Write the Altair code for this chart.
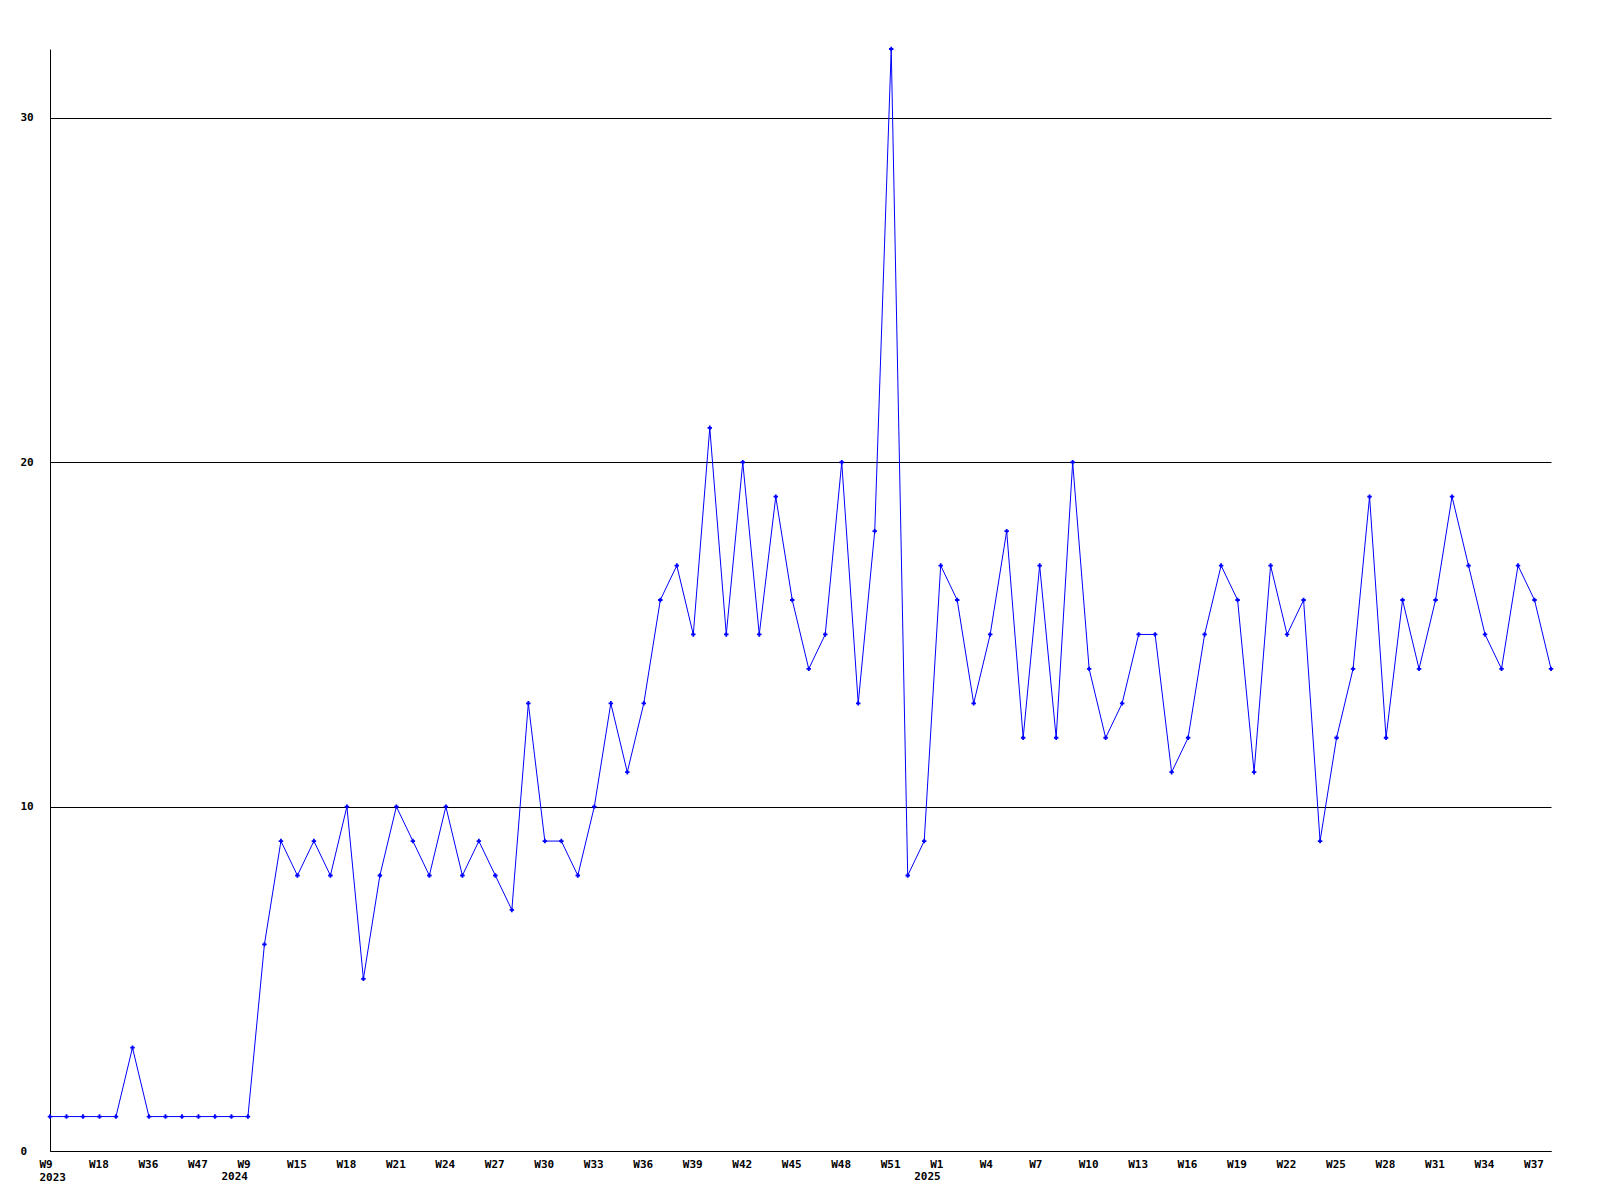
import altair as alt
import pandas as pd

# Weekly counts, one per plotted week (left to right)
values = [1, 1, 1, 1, 1, 3, 1, 1, 1, 1, 1, 1,
          1, 6, 9, 8, 9, 8, 10, 5, 8, 10, 9, 8, 10, 8, 9, 8, 7, 13,
          9, 9, 8, 10, 13, 11, 13, 16, 17, 15, 21, 15, 20, 15, 19, 16,
          14, 15, 20, 13, 18, 32, 8, 9, 17, 16, 13, 15, 18, 12, 17, 12,
          20, 14, 12, 13, 15, 15, 11, 12, 15, 17, 16, 11, 17, 15, 16, 9,
          12, 14, 19, 12, 16, 14, 16, 19, 17, 15, 14, 17, 16, 14]

# Visible tick labels (every third week); "|" separates the year line
tick_labels = ["W9|2023", "W18", "W36", "W47", "W9", "W15", "W18", "W21",
               "W24", "W27", "W30", "W33", "W36", "W39", "W42", "W45", "W48",
               "W51", "W1", "W4", "W7", "W10", "W13", "W16", "W19", "W22",
               "W25", "W28", "W31", "W34", "W37"]
tick_step = 3
# Year markers under the first week of each new year
year_labels = ["2024", "2025"]
year_index = [12, 54]
y_ticks = [0, 10, 20, 30]
y_max = 32

W, H = 1501, 1102
FONT = "DejaVu Sans Mono"
FS = 11

df = pd.DataFrame({"i": list(range(len(values))), "count": values})
years_df = pd.DataFrame({"i": year_index, "year": year_labels})

label_array = "[" + ",".join("'" + t + "'" for t in tick_labels) + "]"
label_expr = "split(" + label_array + "[round(datum.value / " + str(tick_step) + ")], '|')"

x_scale = alt.Scale(domain=[0, len(values) - 1], nice=False, zero=False)

x = alt.X(
    "i:Q",
    scale=x_scale,
    axis=alt.Axis(
        values=list(range(0, len(values), tick_step)),
        labelExpr=label_expr,
        title=None, grid=False, ticks=False, tickSize=0,
        labelAlign="left", labelOffset=-11, labelPadding=7, labelBaseline="top",
        labelLineHeight=13, labelFont=FONT, labelFontSize=FS,
        labelFontWeight="bold", labelColor="black",
        domainColor="black", domainWidth=1,
        labelOverlap=False, labelFlush=False, labelBound=False,
    ),
)
y = alt.Y(
    "count:Q",
    scale=alt.Scale(domain=[0, y_max], nice=False),
    axis=alt.Axis(
        values=y_ticks, title=None, grid=True, gridColor="black",
        gridOpacity=1, gridWidth=1, ticks=False, tickSize=0,
        labelAlign="left", labelPadding=30, labelBaseline="middle",
        labelFont=FONT, labelFontSize=FS, labelFontWeight="bold",
        labelColor="black", domainColor="black", domainWidth=1,
        labelOverlap=False, labelFlush=False, labelBound=False,
    ),
)

base = alt.Chart(df).encode(x=x, y=y)
line = base.mark_line(color="#0000ff", strokeWidth=1)
pts = base.mark_point(shape="cross", filled=True, size=20, color="#0000ff", opacity=1)

years = alt.Chart(years_df).mark_text(
    align="right", baseline="top", font=FONT, fontSize=FS, fontWeight="bold",
    color="black",
).encode(
    x=alt.X("i:Q", scale=x_scale),
    y=alt.value(H + 20),
    text="year:N",
)

chart = (line + pts + years).properties(
    width=W, height=H,
    autosize=alt.AutoSizeParams(type="none"),
    padding={"left": 42, "top": 41, "right": 41, "bottom": 50},
).configure_view(stroke=None)

chart.save("out.html", embed_options={"renderer": "svg", "actions": False})
